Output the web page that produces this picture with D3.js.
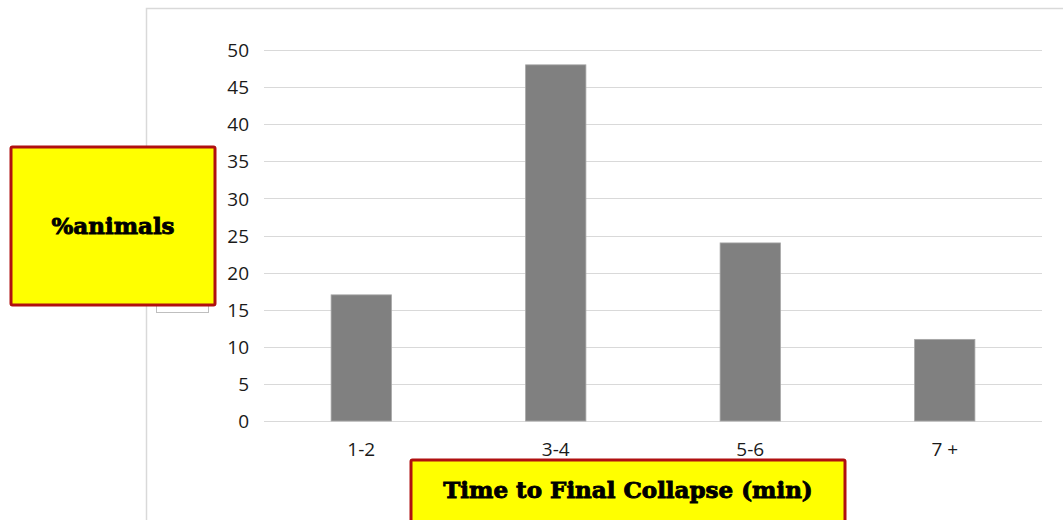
<!DOCTYPE html>
<html>
<head>
<meta charset="utf-8">
<script src="https://cdn.jsdelivr.net/npm/d3@7"></script>
<style>
  html, body { margin: 0; padding: 0; background: #fff; }
  svg { display: block; }
</style>
</head>
<body>
<svg id="chart" width="1063" height="520"></svg>
<script>
// Share of animals by time to final collapse
const categories = ["1-2", "3-4", "5-6", "7 +"];
const percentAnimals = [17, 48, 24, 11];
const yTicks = [0, 5, 10, 15, 20, 25, 30, 35, 40, 45, 50];

const svg = d3.select("#chart");
const W = 1063, H = 520;
const plot = { left: 264, right: 1042, top: 50, bottom: 421 };

// outer chart frame (left and top edges visible)
svg.append("path")
  .attr("d", `M146.5,${H} L146.5,8.5 L${W},8.5`)
  .attr("fill", "none")
  .attr("stroke", "#d9d9d9")
  .attr("stroke-width", 1.5);

const x = d3.scaleBand()
  .domain(categories)
  .range([plot.left, plot.right])
  .paddingInner(0.69)
  .paddingOuter(0.345);

const y = d3.scaleLinear()
  .domain([0, 50])
  .range([plot.bottom, plot.top]);

// horizontal gridlines
svg.append("g")
  .selectAll("line")
  .data(yTicks)
  .join("line")
  .attr("x1", plot.left)
  .attr("x2", plot.right)
  .attr("y1", d => Math.round(y(d)) + 0.5)
  .attr("y2", d => Math.round(y(d)) + 0.5)
  .attr("stroke", "#d9d9d9")
  .attr("stroke-width", 1.2);

const tickFont = "'Open Sans', 'Noto Sans', sans-serif";

// y axis labels
const yAxis = d3.axisLeft(y).tickValues(yTicks).tickSize(0).tickPadding(0);
const gy = svg.append("g")
  .attr("transform", `translate(249,0)`)
  .call(yAxis);
gy.select(".domain").remove();
gy.selectAll("text")
  .attr("font-family", tickFont)
  .attr("font-size", 19)
  .attr("fill", "#1a1a1a")
  .attr("dy", "0.35em");

// x axis labels
const xAxis = d3.axisBottom(x).tickSize(0).tickPadding(0);
const gx = svg.append("g")
  .attr("transform", `translate(0,${plot.bottom})`)
  .call(xAxis);
gx.select(".domain").remove();
gx.selectAll("text")
  .attr("font-family", tickFont)
  .attr("font-size", 19)
  .attr("fill", "#1a1a1a")
  .attr("y", 35)
  .attr("dy", "0");

// bars
svg.append("g")
  .selectAll("rect")
  .data(categories.map((c, i) => ({ c, v: percentAnimals[i] })))
  .join("rect")
  .attr("x", d => x(d.c))
  .attr("y", d => y(d.v))
  .attr("width", x.bandwidth())
  .attr("height", d => y(0) - y(d.v))
  .attr("fill", "#808080")
  .attr("stroke", "#a6a6a6")
  .attr("stroke-width", 0.8);

// small leftover frame partly hidden behind the axis title box
svg.append("rect")
  .attr("x", 156.5).attr("y", 290.5)
  .attr("width", 52).attr("height", 22)
  .attr("fill", "#fff")
  .attr("stroke", "#bfbfbf")
  .attr("stroke-width", 1);

// highlighted axis titles
function titleBox(bx, by, bw, bh, label, ty) {
  svg.append("rect")
    .attr("x", bx).attr("y", by)
    .attr("width", bw).attr("height", bh)
    .attr("fill", "#ffff00")
    .attr("stroke", "#b01010")
    .attr("stroke-width", 3)
    .attr("rx", 1.5);
  svg.append("text")
    .attr("x", bx + bw / 2)
    .attr("y", ty)
    .attr("text-anchor", "middle")
    .attr("dominant-baseline", "middle")
    .attr("font-family", "'DejaVu Serif', serif")
    .attr("font-weight", "bold")
    .attr("font-size", 23)
    .attr("fill", "#000")
    .attr("stroke", "#000")
    .attr("stroke-width", 0.9)
    .text(label);
}
titleBox(11, 147, 204, 158, "%animals", 228);
titleBox(411, 460, 434, 70, "Time to Final Collapse (min)", 492);
</script>
</body>
</html>
